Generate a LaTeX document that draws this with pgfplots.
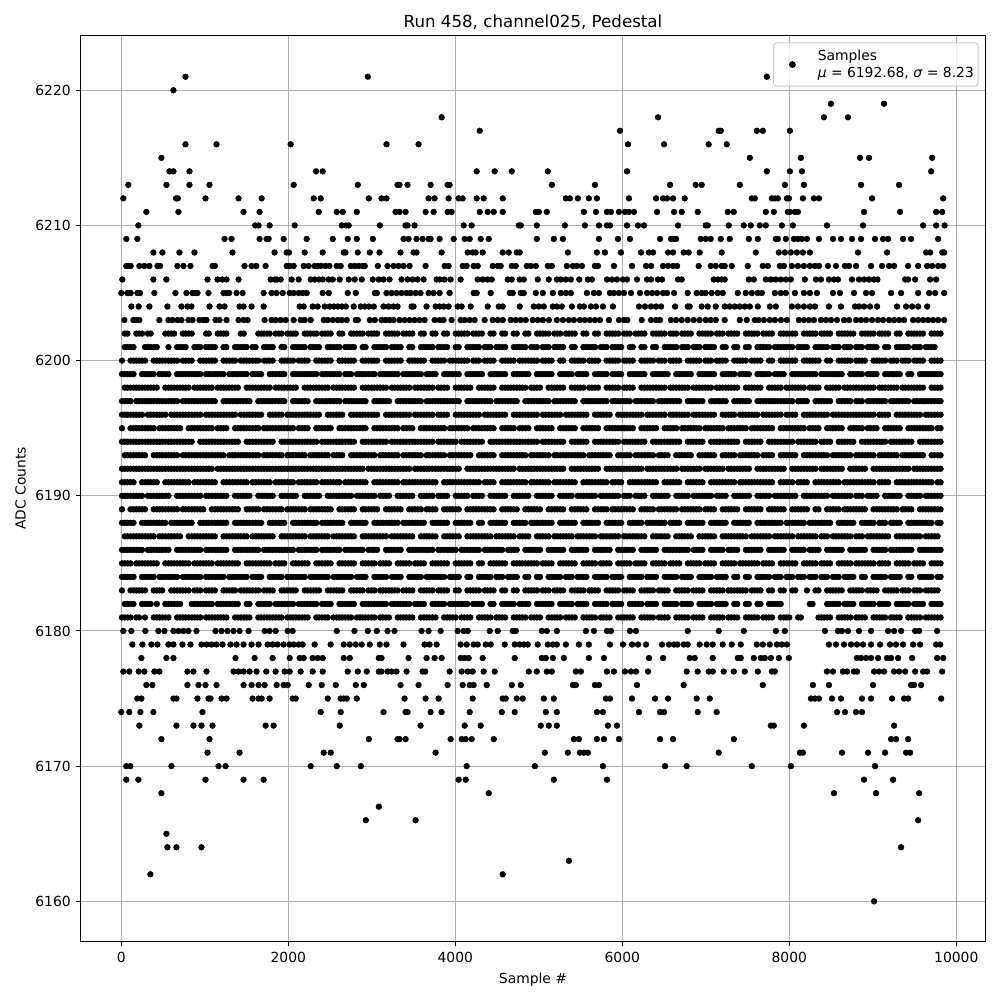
\documentclass[border=0pt]{standalone}
\usepackage{fontspec}
\setmainfont{DejaVu Sans}
\usepackage{pgfplots}
\usepackage{pgfplotstable}
\pgfplotsset{compat=1.18}
\definecolor{gridg}{HTML}{B0B0B0}
\definecolor{legg}{HTML}{CCCCCC}
\pgfplotstableread{
x y
768 6221
2952 6221
7731 6221
624 6220
8499 6219
9135 6219
3836 6218
6428 6218
8415 6218
8703 6218
4292 6217
5972 6217
7155 6217
7179 6217
7611 6217
7683 6217
8007 6217
768 6216
1140 6216
2028 6216
3176 6216
3560 6216
6068 6216
6500 6216
7035 6216
7251 6216
480 6215
7527 6215
8139 6215
8847 6215
8955 6215
9711 6215
576 6214
624 6214
816 6214
2332 6214
2412 6214
4256 6214
4472 6214
4676 6214
5108 6214
6056 6214
7731 6214
8007 6214
8151 6214
9699 6214
84 6213
540 6213
816 6213
1056 6213
2064 6213
2832 6213
3308 6213
3332 6213
3428 6213
3704 6213
3908 6213
3932 6213
5156 6213
5672 6213
6572 6213
6879 6213
6951 6213
7407 6213
7947 6213
8175 6213
8859 6213
9315 6213
24 6212
656 6212
676 6212
1008 6212
1404 6212
1680 6212
2304 6212
2388 6212
2964 6212
3116 6212
3176 6212
3680 6212
3752 6212
3920 6212
4040 6212
4088 6212
4256 6212
4340 6212
4568 6212
5324 6212
5372 6212
5468 6212
5600 6212
5696 6212
6080 6212
6404 6212
6488 6212
6536 6212
6608 6212
6747 6212
7551 6212
7587 6212
7791 6212
7827 6212
7863 6212
7971 6212
7995 6212
8163 6212
8295 6212
8355 6212
8991 6212
9843 6212
300 6211
684 6211
1464 6211
1656 6211
2364 6211
2580 6211
2652 6211
2820 6211
3284 6211
3332 6211
3404 6211
3644 6211
3740 6211
3908 6211
3956 6211
4292 6211
4388 6211
4460 6211
4568 6211
4964 6211
5000 6211
5096 6211
5540 6211
5684 6211
5816 6211
5864 6211
5960 6211
6032 6211
6080 6211
6140 6211
6416 6211
6620 6211
6711 6211
6903 6211
7263 6211
7335 6211
7719 6211
7815 6211
7983 6211
8007 6211
8067 6211
8103 6211
8895 6211
9327 6211
9759 6211
9831 6211
204 6210
1604 6210
1644 6210
1776 6210
2076 6210
2640 6210
2692 6210
2724 6210
3096 6210
3404 6210
3428 6210
3512 6210
4100 6210
4196 6210
4760 6210
4784 6210
4976 6210
5312 6210
5552 6210
5720 6210
5816 6210
5852 6210
6056 6210
6188 6210
6260 6210
6668 6210
6999 6210
7023 6210
7275 6210
7455 6210
7539 6210
7647 6210
7719 6210
7911 6210
8043 6210
8451 6210
8883 6210
9603 6210
9759 6210
9860 6210
60 6209
192 6209
1236 6209
1320 6209
1656 6209
1740 6209
1764 6209
1944 6209
2220 6209
2532 6209
2712 6209
2820 6209
3012 6209
3380 6209
3440 6209
3536 6209
3608 6209
3680 6209
3704 6209
3812 6209
3980 6209
4112 6209
4172 6209
4304 6209
4400 6209
4976 6209
5180 6209
5288 6209
5720 6209
5948 6209
6092 6209
6452 6209
6584 6209
6620 6209
6644 6209
6939 6209
6999 6209
7059 6209
7179 6209
7287 6209
7515 6209
7623 6209
7839 6209
7863 6209
7959 6209
8055 6209
8103 6209
8151 6209
8211 6209
8355 6209
8523 6209
8619 6209
8751 6209
8859 6209
9027 6209
9123 6209
9183 6209
9363 6209
9459 6209
9783 6209
384 6208
492 6208
696 6208
876 6208
1332 6208
1836 6208
1980 6208
2008 6208
2196 6208
2412 6208
2664 6208
2684 6208
2832 6208
2976 6208
3092 6208
3344 6208
3500 6208
3536 6208
3836 6208
4148 6208
4208 6208
4244 6208
4328 6208
4568 6208
4640 6208
4736 6208
4772 6208
5348 6208
5696 6208
5792 6208
5984 6208
6224 6208
6320 6208
6368 6208
6548 6208
6608 6208
6735 6208
6795 6208
6927 6208
7191 6208
7599 6208
7875 6208
7947 6208
8019 6208
8091 6208
8163 6208
8247 6208
8823 6208
9171 6208
9639 6208
9687 6208
9831 6208
9855 6208
60 6207
84 6207
112 6207
216 6207
276 6207
336 6207
432 6207
464 6207
672 6207
744 6207
828 6207
1092 6207
1120 6207
1476 6207
1560 6207
1616 6207
1728 6207
1980 6207
2016 6207
2064 6207
2184 6207
2244 6207
2316 6207
2352 6207
2392 6207
2444 6207
2492 6207
2580 6207
2628 6207
2748 6207
2796 6207
2844 6207
2892 6207
2916 6207
3072 6207
3188 6207
3260 6207
3320 6207
3380 6207
3452 6207
3644 6207
3872 6207
3920 6207
4088 6207
4136 6207
4220 6207
4268 6207
4448 6207
4508 6207
4544 6207
4676 6207
4724 6207
4856 6207
4904 6207
4964 6207
5108 6207
5156 6207
5336 6207
5408 6207
5456 6207
5516 6207
5672 6207
5708 6207
5900 6207
6116 6207
6284 6207
6344 6207
6488 6207
6548 6207
6608 6207
6656 6207
6915 6207
7059 6207
7119 6207
7191 6207
7227 6207
7311 6207
7503 6207
7683 6207
7743 6207
7887 6207
7935 6207
8031 6207
8103 6207
8175 6207
8247 6207
8307 6207
8355 6207
8463 6207
8559 6207
8667 6207
8715 6207
8799 6207
8979 6207
9111 6207
9195 6207
9255 6207
9423 6207
9543 6207
9651 6207
9711 6207
9783 6207
9843 6207
12 6206
384 6206
540 6206
1032 6206
1152 6206
1212 6206
1260 6206
1404 6206
1788 6206
1836 6206
1864 6206
1908 6206
2040 6206
2124 6206
2268 6206
2316 6206
2364 6206
2412 6206
2484 6206
2532 6206
2616 6206
2724 6206
2796 6206
2880 6206
3012 6206
3084 6206
3140 6206
3212 6206
3356 6206
3428 6206
3488 6206
3548 6206
3620 6206
3776 6206
3812 6206
3872 6206
3944 6206
4064 6206
4268 6206
4328 6206
4388 6206
4436 6206
4628 6206
4676 6206
4772 6206
4820 6206
4988 6206
5120 6206
5216 6206
5264 6206
5324 6206
5384 6206
5484 6206
5588 6206
5636 6206
5816 6206
5876 6206
5936 6206
6008 6206
6056 6206
6176 6206
6296 6206
6344 6206
6428 6206
6476 6206
6668 6206
6711 6206
7095 6206
7143 6206
7191 6206
7227 6206
7515 6206
7575 6206
7719 6206
7779 6206
7839 6206
7899 6206
7959 6206
8019 6206
8187 6206
8319 6206
8379 6206
8475 6206
8535 6206
8583 6206
8751 6206
8835 6206
8895 6206
8955 6206
9015 6206
9055 6206
9387 6206
9423 6206
9507 6206
9687 6206
9759 6206
0 6205
72 6205
112 6205
192 6205
224 6205
396 6205
648 6205
780 6205
852 6205
888 6205
912 6205
1044 6205
1224 6205
1264 6205
1292 6205
1380 6205
1452 6205
1704 6205
1800 6205
1860 6205
1932 6205
2016 6205
2064 6205
2124 6205
2172 6205
2220 6205
2412 6205
2484 6205
2712 6205
2808 6205
3036 6205
3060 6205
3176 6205
3236 6205
3296 6205
3356 6205
3416 6205
3464 6205
3524 6205
3584 6205
3680 6205
3740 6205
3812 6205
3932 6205
4220 6205
4256 6205
4424 6205
4652 6205
4688 6205
4784 6205
4820 6205
4964 6205
5048 6205
5168 6205
5264 6205
5324 6205
5384 6205
5576 6205
5660 6205
5720 6205
5852 6205
5900 6205
5960 6205
6020 6205
6104 6205
6212 6205
6296 6205
6356 6205
6416 6205
6488 6205
6536 6205
6620 6205
6783 6205
6891 6205
6951 6205
6999 6205
7071 6205
7143 6205
7203 6205
7383 6205
7479 6205
7551 6205
7623 6205
7671 6205
7827 6205
7899 6205
7959 6205
8067 6205
8175 6205
8247 6205
8331 6205
8523 6205
8607 6205
8775 6205
8919 6205
8991 6205
9219 6205
9339 6205
9543 6205
9675 6205
9747 6205
9855 6205
120 6204
208 6204
336 6204
552 6204
720 6204
792 6204
840 6204
1056 6204
1176 6204
1236 6204
1416 6204
1464 6204
1560 6204
1704 6204
2136 6204
2184 6204
2292 6204
2352 6204
2436 6204
2496 6204
2544 6204
2592 6204
2640 6204
2688 6204
2784 6204
2868 6204
2916 6204
2964 6204
3024 6204
3140 6204
3200 6204
3260 6204
3308 6204
3476 6204
3500 6204
3656 6204
3764 6204
3812 6204
3860 6204
3920 6204
4028 6204
4076 6204
4184 6204
4388 6204
4520 6204
4568 6204
4772 6204
4940 6204
5000 6204
5060 6204
5168 6204
5216 6204
5276 6204
5396 6204
5492 6204
5540 6204
5624 6204
5684 6204
5768 6204
5888 6204
6200 6204
6272 6204
6344 6204
6404 6204
6464 6204
6632 6204
6783 6204
6807 6204
6951 6204
7023 6204
7119 6204
7227 6204
7287 6204
7347 6204
7407 6204
7467 6204
7527 6204
7623 6204
7767 6204
7839 6204
8031 6204
8103 6204
8175 6204
8247 6204
8307 6204
8475 6204
8619 6204
8787 6204
8835 6204
8895 6204
8967 6204
9051 6204
9291 6204
9399 6204
9471 6204
9543 6204
9651 6204
36 6203
144 6203
184 6203
216 6203
456 6203
564 6203
612 6203
672 6203
720 6203
804 6203
852 6203
936 6203
984 6203
1020 6203
1128 6203
1176 6203
1260 6203
1404 6203
1464 6203
1512 6203
1716 6203
1800 6203
1848 6203
1908 6203
1968 6203
2064 6203
2148 6203
2196 6203
2268 6203
2424 6203
2472 6203
2532 6203
2592 6203
2640 6203
2700 6203
2808 6203
2832 6203
2976 6203
3036 6203
3116 6203
3164 6203
3212 6203
3260 6203
3332 6203
3392 6203
3452 6203
3512 6203
3572 6203
3632 6203
3752 6203
3812 6203
3860 6203
3956 6203
4064 6203
4112 6203
4172 6203
4232 6203
4352 6203
4448 6203
4508 6203
4568 6203
4664 6203
4724 6203
4784 6203
4844 6203
4928 6203
4988 6203
5048 6203
5120 6203
5216 6203
5288 6203
5360 6203
5420 6203
5492 6203
5552 6203
5612 6203
5672 6203
5732 6203
5840 6203
5960 6203
6020 6203
6060 6203
6232 6203
6344 6203
6404 6203
6452 6203
6584 6203
6644 6203
6711 6203
6783 6203
6855 6203
6927 6203
6999 6203
7059 6203
7119 6203
7227 6203
7407 6203
7491 6203
7587 6203
7635 6203
7695 6203
7767 6203
7827 6203
7899 6203
7971 6203
8115 6203
8175 6203
8235 6203
8295 6203
8379 6203
8439 6203
8499 6203
8571 6203
8655 6203
8715 6203
8799 6203
8859 6203
8919 6203
8991 6203
9063 6203
9123 6203
9195 6203
9255 6203
9315 6203
9375 6203
9483 6203
9543 6203
9603 6203
9663 6203
9723 6203
9783 6203
9855 6203
24 6180
120 6180
288 6180
444 6180
516 6180
624 6180
684 6180
744 6180
804 6180
900 6180
1128 6180
1200 6180
1272 6180
1344 6180
1416 6180
1524 6180
1716 6180
1776 6180
1848 6180
1992 6180
2052 6180
2580 6180
2792 6180
2952 6180
3060 6180
3188 6180
3272 6180
3596 6180
3680 6180
3824 6180
4028 6180
4100 6180
4148 6180
4412 6180
4508 6180
4688 6180
4724 6180
5036 6180
5096 6180
5216 6180
5564 6180
5660 6180
5816 6180
5864 6180
6092 6180
6164 6180
6783 6180
7155 6180
7455 6180
7839 6180
7947 6180
8427 6180
8583 6180
8631 6180
8703 6180
8835 6180
8979 6180
9183 6180
9255 6180
9339 6180
9507 6180
9555 6180
9771 6180
132 6179
252 6179
360 6179
432 6179
564 6179
624 6179
732 6179
828 6179
960 6179
1020 6179
1080 6179
1140 6179
1212 6179
1308 6179
1380 6179
1464 6179
1560 6179
1644 6179
1752 6179
1812 6179
1872 6179
1944 6179
2016 6179
2064 6179
2124 6179
2172 6179
2316 6179
2508 6179
2664 6179
2736 6179
2808 6179
2880 6179
2976 6179
3096 6179
3176 6179
3380 6179
3632 6179
3692 6179
3776 6179
4064 6179
4136 6179
4220 6179
4268 6179
4364 6179
4424 6179
4592 6179
4712 6179
4772 6179
4820 6179
4868 6179
4988 6179
5108 6179
5168 6179
5216 6179
5324 6179
5480 6179
5600 6179
5852 6179
6008 6179
6116 6179
6188 6179
6284 6179
6476 6179
6560 6179
6620 6179
6660 6179
6735 6179
6783 6179
6927 6179
7011 6179
7083 6179
7203 6179
7311 6179
7419 6179
7611 6179
7683 6179
7767 6179
7851 6179
7911 6179
7971 6179
8475 6179
8559 6179
8655 6179
8739 6179
8811 6179
8883 6179
8979 6179
9087 6179
9207 6179
9279 6179
9363 6179
9483 6179
9567 6179
9759 6179
9807 6179
240 6178
540 6178
624 6178
1368 6178
1596 6178
1812 6178
2016 6178
2136 6178
2184 6178
2292 6178
2352 6178
2412 6178
2664 6178
2736 6178
3084 6178
3116 6178
3440 6178
3656 6178
3752 6178
3836 6178
4064 6178
4112 6178
4160 6178
4328 6178
4712 6178
5036 6178
5084 6178
5168 6178
5300 6178
5600 6178
5780 6178
6320 6178
6488 6178
6807 6178
6867 6178
7083 6178
7383 6178
7419 6178
7575 6178
7659 6178
7707 6178
7779 6178
7875 6178
7995 6178
8811 6178
8859 6178
8919 6178
8979 6178
9063 6178
9171 6178
9219 6178
9303 6178
9471 6178
9771 6178
9843 6178
24 6177
96 6177
208 6177
276 6177
396 6177
456 6177
792 6177
864 6177
1020 6177
1344 6177
1404 6177
1464 6177
1536 6177
1620 6177
1736 6177
1848 6177
1956 6177
2016 6177
2148 6177
2292 6177
2412 6177
2712 6177
2832 6177
2940 6177
3084 6177
3116 6177
3188 6177
3236 6177
3296 6177
3416 6177
3608 6177
3640 6177
3932 6177
4076 6177
4148 6177
4208 6177
4340 6177
4472 6177
4880 6177
4976 6177
5096 6177
5156 6177
5444 6177
5504 6177
5816 6177
5900 6177
6032 6177
6104 6177
6164 6177
6308 6177
6771 6177
6903 6177
7035 6177
7083 6177
7215 6177
7335 6177
7467 6177
7623 6177
7791 6177
7827 6177
8451 6177
8523 6177
8643 6177
8691 6177
8775 6177
8811 6177
9015 6177
9075 6177
9135 6177
9255 6177
9315 6177
9387 6177
9507 6177
9603 6177
9651 6177
9831 6177
300 6176
372 6176
792 6176
924 6176
1008 6176
1140 6176
1464 6176
1560 6176
1644 6176
1716 6176
1860 6176
1944 6176
1992 6176
2244 6176
2400 6176
2568 6176
2808 6176
2904 6176
3344 6176
3560 6176
3908 6176
4088 6176
4172 6176
4220 6176
4376 6176
4676 6176
4784 6176
5408 6176
5444 6176
5672 6176
5720 6176
6176 6176
6735 6176
7683 6176
8283 6176
8475 6176
9003 6176
9459 6176
9495 6176
9579 6176
192 6175
240 6175
624 6175
660 6175
912 6175
1044 6175
1068 6175
1200 6175
1260 6175
1572 6175
1644 6175
1680 6175
1776 6175
2052 6175
2088 6175
2472 6175
2628 6175
2664 6175
2700 6175
2820 6175
3392 6175
3644 6175
3800 6175
4208 6175
4568 6175
4604 6175
4736 6175
4808 6175
5060 6175
5180 6175
5804 6175
5852 6175
6116 6175
6392 6175
6548 6175
6891 6175
7047 6175
8259 6175
8307 6175
8355 6175
8511 6175
8619 6175
8871 6175
8979 6175
9231 6175
9375 6175
9423 6175
9819 6175
0 6174
96 6174
228 6174
384 6174
972 6174
2388 6174
2628 6174
3140 6174
3404 6174
3428 6174
3704 6174
3836 6174
4172 6174
4556 6174
4712 6174
5084 6174
5216 6174
5696 6174
5768 6174
6200 6174
6452 6174
6500 6174
6903 6174
7131 6174
8571 6174
8667 6174
8799 6174
8871 6174
216 6173
660 6173
864 6173
960 6173
1092 6173
1728 6173
1824 6173
2616 6173
3584 6173
4112 6173
4304 6173
5024 6173
5120 6173
5216 6173
5828 6173
5936 6173
7779 6173
7815 6173
8175 6173
9255 6173
480 6172
1056 6172
2964 6172
3308 6172
3332 6172
3404 6172
3944 6172
4076 6172
4124 6172
4196 6172
4460 6172
5420 6172
5480 6172
5696 6172
5780 6172
5960 6172
6452 6172
6608 6172
7335 6172
9219 6172
9279 6172
9423 6172
1032 6171
1416 6171
2424 6171
2508 6171
3764 6171
5072 6171
5348 6171
5492 6171
5540 6171
5588 6171
7155 6171
8127 6171
8163 6171
8631 6171
8943 6171
9147 6171
9399 6171
9447 6171
60 6170
108 6170
600 6170
1164 6170
1248 6170
2268 6170
2580 6170
2868 6170
4136 6170
4952 6170
5768 6170
6512 6170
6771 6170
7551 6170
8019 6170
9027 6170
60 6169
204 6169
1008 6169
1464 6169
1704 6169
4040 6169
4124 6169
5180 6169
5816 6169
8895 6169
9243 6169
480 6168
4400 6168
8535 6168
9039 6168
9555 6168
3084 6167
2928 6166
3524 6166
9543 6166
540 6165
552 6164
660 6164
960 6164
9339 6164
5360 6163
348 6162
4568 6162
9015 6160
}\outliers
\pgfplotstableread{
x a b c d e f g h i j k l m n o p q r s t u v
8 6181 nan 6183 6184 6185 6186 nan 6188 6189 6190 6191 6192 nan 6194 6195 6196 6197 nan 6199 6200 nan nan
74 6181 6182 nan 6184 6185 6186 6187 6188 nan 6190 6191 6192 6193 6194 nan 6196 6197 6198 6199 nan 6201 6202
146 nan 6182 6183 6184 nan 6186 6187 6188 6189 6190 6191 6192 6193 6194 6195 6196 nan 6198 6199 6200 6201 nan
212 6181 nan 6183 nan 6185 6186 6187 nan 6189 6190 nan 6192 6193 6194 6195 6196 6197 6198 nan 6200 nan 6202
284 6181 6182 6183 6184 6185 nan 6187 6188 6189 nan 6191 6192 6193 6194 6195 nan 6197 6198 6199 6200 6201 nan
352 nan 6182 nan 6184 6185 6186 6187 6188 nan 6190 6191 6192 nan 6194 6195 6196 6197 6198 6199 nan 6201 6202
425 6181 6182 6183 nan 6185 6186 nan 6188 6189 6190 6191 6192 6193 6194 nan 6196 6197 6198 nan 6200 6201 nan
490 6181 nan 6183 6184 nan 6186 6187 6188 6189 6190 nan 6192 6193 6194 6195 6196 6197 nan 6199 6200 nan nan
565 6181 6182 nan 6184 6185 6186 6187 nan 6189 6190 6191 6192 6193 6194 6195 nan 6197 6198 6199 6200 6201 6202
632 nan 6182 6183 6184 6185 nan 6187 6188 6189 nan 6191 6192 6193 6194 6195 6196 6197 6198 nan 6200 nan 6202
704 6181 6182 6183 nan 6185 6186 6187 6188 nan 6190 6191 6192 nan 6194 6195 6196 nan 6198 6199 nan 6201 nan
770 6181 nan 6183 6184 6185 6186 nan 6188 6189 6190 6191 6192 6193 6194 nan 6196 6197 6198 6199 6200 6201 6202
843 6181 6182 nan 6184 nan 6186 6187 6188 6189 6190 nan 6192 6193 6194 6195 6196 6197 nan 6199 6200 nan 6202
910 6181 6182 6183 6184 6185 6186 6187 nan 6189 6190 6191 6192 6193 nan 6195 6196 6197 6198 6199 nan 6201 nan
982 nan 6182 nan nan 6185 nan 6187 6188 6189 nan 6191 6192 6193 6194 6195 nan 6197 6198 nan 6200 nan nan
1048 6181 6182 6183 6184 6185 6186 6187 6188 nan 6190 6191 6192 6193 6194 6195 6196 6197 6198 6199 6200 6201 6202
1121 6181 nan 6183 6184 nan 6186 6187 6188 6189 6190 6191 nan 6193 6194 nan 6196 6197 nan 6199 6200 6201 nan
1190 6181 6182 nan 6184 6185 6186 nan 6188 6189 6190 nan 6192 6193 6194 6195 6196 nan 6198 6199 nan nan 6202
1258 6181 6182 6183 nan 6185 6186 6187 6188 6189 6190 6191 6192 nan 6194 6195 6196 6197 6198 nan 6200 6201 6202
1329 nan 6182 6183 6184 6185 nan 6187 nan 6189 nan 6191 6192 6193 6194 nan 6196 6197 6198 6199 6200 nan nan
1396 6181 6182 nan 6184 6185 6186 6187 6188 6189 6190 6191 6192 6193 6194 6195 nan 6197 6198 6199 nan 6201 nan
1467 6181 nan 6183 6184 nan 6186 6187 6188 nan 6190 6191 6192 6193 nan 6195 6196 6197 nan 6199 6200 6201 6202
1535 6181 6182 6183 nan 6185 6186 nan 6188 6189 6190 nan 6192 6193 6194 6195 6196 6197 6198 nan 6200 nan nan
1608 nan nan 6183 6184 6185 6186 6187 6188 6189 nan 6191 6192 6193 6194 6195 6196 nan 6198 6199 6200 6201 nan
1675 6181 6182 nan 6184 6185 nan 6187 6188 nan 6190 6191 6192 nan 6194 nan 6196 6197 6198 6199 nan nan 6202
1744 6181 6182 6183 nan 6185 6186 6187 nan 6189 6190 6191 6192 6193 6194 6195 nan 6197 6198 nan 6200 6201 6202
1813 6181 nan 6183 6184 nan 6186 6187 6188 6189 6190 nan 6192 6193 6194 6195 6196 6197 nan 6199 6200 6201 nan
1886 6181 6182 nan 6184 6185 6186 nan 6188 6189 nan 6191 6192 6193 nan 6195 6196 6197 6198 6199 nan nan 6202
1952 nan 6182 6183 nan 6185 6186 6187 6188 nan 6190 6191 6192 nan 6194 6195 nan 6197 6198 6199 6200 6201 nan
2024 6181 6182 6183 6184 nan 6186 6187 nan 6189 6190 6191 6192 6193 6194 6195 6196 nan 6198 nan 6200 nan 6202
2090 6181 nan 6183 6184 6185 nan 6187 6188 6189 6190 nan 6192 6193 6194 nan 6196 6197 6198 6199 nan 6201 6202
2163 6181 6182 nan 6184 6185 6186 6187 6188 6189 nan 6191 6192 6193 6194 6195 6196 6197 nan 6199 6200 6201 nan
2231 6181 6182 6183 nan 6185 6186 nan 6188 nan 6190 6191 6192 nan 6194 6195 6196 6197 6198 6199 6200 nan 6202
2302 nan 6182 6183 6184 nan 6186 6187 6188 6189 6190 6191 6192 6193 6194 nan 6196 nan 6198 6199 nan 6201 6202
2368 6181 nan 6183 6184 6185 nan 6187 nan 6189 6190 nan 6192 6193 nan 6195 6196 6197 6198 nan 6200 6201 nan
2440 6181 6182 nan 6184 6185 6186 6187 6188 6189 nan 6191 6192 6193 6194 6195 nan 6197 6198 6199 6200 nan 6202
2507 nan 6182 6183 nan 6185 6186 nan 6188 6189 6190 6191 6192 nan 6194 6195 6196 6197 nan 6199 6200 6201 6202
2580 6181 nan 6183 6184 nan 6186 6187 6188 nan 6190 6191 6192 6193 6194 nan 6196 6197 6198 6199 nan 6201 nan
2646 6181 6182 6183 6184 6185 nan 6187 6188 6189 6190 nan 6192 6193 6194 6195 6196 nan 6198 nan 6200 nan 6202
2719 6181 6182 nan 6184 6185 6186 6187 nan 6189 6190 6191 6192 nan 6194 6195 nan 6197 6198 6199 6200 6201 nan
2786 nan 6182 6183 nan 6185 6186 6187 6188 6189 nan 6191 6192 6193 6194 6195 6196 6197 6198 nan 6200 6201 6202
2858 6181 nan 6183 6184 nan 6186 nan 6188 nan 6190 6191 6192 6193 nan 6195 6196 6197 nan 6199 nan nan 6202
2925 6181 6182 nan 6184 6185 nan 6187 6188 6189 6190 6191 nan 6193 6194 6195 6196 6197 6198 6199 6200 6201 nan
2998 6181 6182 6183 nan 6185 6186 6187 nan 6189 6190 nan 6192 6193 6194 nan 6196 nan 6198 6199 6200 nan 6202
3064 nan 6182 nan 6184 nan 6186 6187 6188 6189 nan 6191 6192 nan 6194 6195 6196 6197 6198 nan 6200 6201 6202
3135 6181 6182 6183 6184 6185 nan 6187 6188 nan 6190 6191 6192 6193 6194 6195 nan 6197 6198 6199 nan 6201 nan
3206 6181 nan 6183 nan 6185 6186 nan 6188 6189 6190 6191 6192 6193 nan 6195 6196 6197 nan 6199 6200 nan 6202
3274 nan 6182 6183 6184 nan 6186 6187 6188 6189 nan 6191 6192 6193 6194 6195 6196 nan 6198 6199 6200 6201 6202
3345 6181 6182 nan 6184 6185 6186 6187 nan 6189 6190 nan 6192 nan 6194 nan 6196 6197 6198 nan 6200 6201 nan
3412 6181 6182 6183 nan 6185 nan 6187 6188 nan 6190 6191 6192 6193 6194 6195 6196 6197 6198 6199 nan nan 6202
3485 6181 nan 6183 6184 nan 6186 6187 6188 6189 6190 6191 nan 6193 6194 6195 nan 6197 nan 6199 6200 6201 6202
3551 nan 6182 nan 6184 6185 6186 nan 6188 6189 nan 6191 6192 6193 6194 nan 6196 6197 6198 6199 6200 nan nan
3624 6181 6182 6183 nan 6185 6186 6187 6188 nan 6190 6191 6192 nan 6194 6195 6196 nan 6198 nan 6200 6201 6202
3690 6181 nan 6183 6184 nan 6186 6187 nan 6189 6190 6191 6192 6193 6194 6195 6196 6197 6198 6199 nan 6201 nan
3763 6181 6182 nan 6184 6185 nan 6187 6188 6189 nan 6191 6192 6193 nan 6195 nan 6197 nan 6199 6200 nan 6202
3830 nan 6182 6183 6184 6185 6186 nan 6188 nan 6190 nan 6192 6193 6194 6195 6196 6197 6198 nan 6200 6201 nan
3902 6181 nan 6183 nan 6185 6186 6187 6188 6189 6190 6191 6192 nan 6194 nan 6196 6197 6198 6199 nan 6201 6202
3969 6181 6182 nan 6184 nan 6186 6187 nan 6189 nan 6191 6192 6193 6194 6195 nan 6197 nan 6199 6200 nan nan
4041 nan 6182 6183 6184 6185 nan 6187 6188 6189 6190 6191 6192 6193 nan 6195 6196 6197 6198 6199 6200 6201 6202
4109 6181 6182 nan nan 6185 6186 nan 6188 nan 6190 6191 nan 6193 6194 6195 6196 nan 6198 nan 6200 nan 6202
4180 6181 nan 6183 6184 6185 6186 6187 6188 6189 nan 6191 6192 6193 6194 nan 6196 6197 6198 6199 nan 6201 nan
4247 nan 6182 6183 nan nan 6186 6187 nan 6189 6190 6191 6192 nan 6194 6195 6196 6197 nan 6199 6200 6201 6202
4319 6181 6182 nan 6184 6185 nan 6187 6188 6189 6190 nan 6192 6193 6194 6195 nan 6197 6198 6199 nan nan 6202
4386 6181 nan 6183 6184 nan 6186 6187 nan 6189 nan 6191 6192 6193 nan 6195 6196 6197 6198 nan 6200 6201 nan
4458 nan 6182 6183 nan 6185 6186 nan 6188 6189 6190 6191 6192 6193 6194 6195 6196 nan 6198 6199 6200 nan 6202
4525 6181 nan nan 6184 6185 6186 6187 6188 nan 6190 nan 6192 nan 6194 nan 6196 6197 nan 6199 nan 6201 nan
4597 6181 6182 6183 nan 6185 nan 6187 6188 6189 6190 6191 6192 6193 6194 6195 6196 6197 6198 6199 6200 6201 6202
4664 nan 6182 nan 6184 nan 6186 6187 nan 6189 nan 6191 6192 6193 6194 6195 nan 6197 6198 nan 6200 nan nan
4736 6181 nan 6183 6184 6185 6186 nan 6188 6189 6190 6191 nan 6193 6194 nan 6196 6197 6198 6199 nan 6201 6202
4803 6181 6182 nan nan 6185 nan 6187 6188 nan 6190 6191 6192 6193 6194 6195 6196 nan 6198 6199 6200 6201 nan
4875 nan 6182 6183 6184 6185 6186 6187 nan 6189 6190 nan 6192 nan 6194 6195 6196 6197 nan 6199 6200 nan 6202
4942 6181 nan 6183 nan 6185 6186 nan 6188 6189 nan 6191 6192 6193 6194 nan 6196 6197 6198 nan 6200 6201 nan
5014 6181 6182 nan 6184 nan 6186 6187 6188 6189 6190 6191 6192 6193 nan 6195 nan 6197 6198 6199 nan nan 6202
5081 nan 6182 6183 nan 6185 nan 6187 6188 nan 6190 6191 6192 6193 6194 6195 6196 6197 nan 6199 6200 6201 6202
5153 6181 6182 nan 6184 6185 6186 nan 6188 6189 6190 nan 6192 nan 6194 6195 6196 nan 6198 6199 6200 nan nan
5220 6181 nan 6183 6184 nan 6186 6187 nan 6189 nan 6191 6192 6193 6194 nan 6196 6197 6198 nan nan 6201 6202
5292 nan 6182 6183 nan 6185 6186 6187 6188 6189 6190 6191 6192 6193 6194 6195 nan 6197 6198 6199 6200 6201 nan
5359 6181 6182 nan 6184 6185 nan 6187 6188 nan 6190 6191 nan 6193 nan 6195 6196 6197 nan 6199 nan nan 6202
5431 6181 nan 6183 nan 6185 6186 nan 6188 6189 nan 6191 6192 6193 6194 6195 6196 6197 6198 nan 6200 6201 6202
5498 nan 6182 6183 6184 nan 6186 6187 nan 6189 6190 nan 6192 6193 6194 nan 6196 nan 6198 6199 6200 nan nan
5570 6181 6182 nan 6184 6185 6186 6187 6188 6189 6190 6191 6192 nan 6194 6195 6196 6197 nan 6199 nan 6201 6202
5637 6181 nan 6183 nan 6185 nan 6187 6188 nan 6190 6191 6192 6193 nan 6195 nan 6197 6198 nan 6200 6201 nan
5709 nan 6182 6183 6184 nan 6186 nan 6188 6189 nan 6191 6192 6193 6194 6195 6196 6197 6198 6199 6200 nan 6202
5776 6181 6182 nan 6184 6185 6186 6187 nan 6189 6190 6191 nan 6193 6194 nan 6196 6197 nan 6199 nan 6201 nan
5848 6181 nan 6183 nan 6185 6186 6187 6188 nan 6190 nan 6192 6193 6194 6195 6196 nan 6198 nan 6200 nan 6202
5915 nan 6182 6183 6184 nan nan 6187 6188 6189 6190 6191 6192 nan 6194 6195 nan 6197 6198 6199 6200 6201 6202
5987 6181 6182 nan 6184 6185 6186 nan 6188 6189 nan 6191 6192 6193 nan 6195 6196 6197 nan 6199 nan 6201 nan
6054 6181 nan 6183 nan 6185 6186 6187 nan 6189 6190 nan 6192 6193 6194 6195 6196 6197 6198 nan 6200 nan 6202
6126 6181 6182 6183 6184 nan 6186 6187 6188 6189 nan 6191 6192 nan 6194 6195 6196 nan 6198 6199 6200 6201 nan
6193 nan 6182 nan 6184 6185 nan 6187 6188 nan 6190 6191 6192 6193 6194 nan 6196 6197 nan 6199 nan nan 6202
6265 6181 nan 6183 nan 6185 6186 6187 nan 6189 6190 6191 nan 6193 6194 6195 nan 6197 6198 6199 6200 6201 6202
6332 6181 6182 6183 6184 nan 6186 nan 6188 6189 nan 6191 6192 6193 nan 6195 6196 6197 6198 nan 6200 nan nan
6404 nan 6182 nan 6184 6185 6186 6187 6188 nan 6190 6191 6192 nan 6194 6195 6196 nan 6198 6199 nan 6201 6202
6471 6181 nan 6183 nan 6185 nan 6187 6188 6189 6190 nan 6192 6193 6194 nan 6196 6197 6198 6199 6200 nan 6202
6543 6181 6182 6183 6184 nan 6186 6187 nan 6189 6190 6191 6192 6193 6194 6195 nan 6197 nan 6199 nan 6201 nan
6610 nan 6182 nan 6184 6185 6186 nan 6188 6189 nan 6191 6192 nan 6194 6195 6196 6197 6198 nan 6200 6201 6202
6682 6181 nan 6183 nan 6185 6186 6187 6188 nan 6190 6191 nan 6193 6194 nan 6196 6197 6198 6199 6200 nan nan
6749 6181 6182 6183 6184 nan 6186 6187 nan 6189 6190 nan 6192 6193 nan 6195 6196 nan 6198 6199 nan 6201 6202
6821 nan 6182 nan 6184 6185 nan 6187 6188 6189 nan 6191 6192 6193 6194 6195 nan 6197 nan 6199 6200 nan 6202
6888 6181 nan 6183 nan 6185 6186 nan 6188 6189 6190 6191 6192 nan 6194 6195 6196 6197 6198 nan 6200 6201 nan
6960 6181 6182 6183 6184 nan 6186 6187 6188 nan 6190 6191 nan 6193 6194 nan 6196 6197 6198 6199 nan nan 6202
7027 nan 6182 nan 6184 6185 nan 6187 nan 6189 6190 nan 6192 6193 nan 6195 6196 nan 6198 6199 6200 6201 6202
7099 6181 nan 6183 nan 6185 6186 6187 6188 6189 nan 6191 6192 6193 6194 6195 6196 6197 nan 6199 nan 6201 nan
7166 6181 6182 6183 6184 nan 6186 nan 6188 nan 6190 6191 6192 nan 6194 6195 nan 6197 6198 nan 6200 nan 6202
7238 nan 6182 nan 6184 6185 nan 6187 6188 6189 6190 6191 nan 6193 6194 nan 6196 6197 6198 6199 6200 6201 nan
7305 6181 nan 6183 nan 6185 6186 6187 nan 6189 nan 6191 6192 6193 6194 6195 6196 nan 6198 6199 nan nan 6202
7377 6181 6182 6183 6184 nan 6186 6187 6188 6189 6190 nan 6192 nan 6194 6195 nan 6197 6198 nan 6200 6201 6202
7444 nan nan 6183 nan 6185 nan 6187 6188 nan 6190 6191 6192 6193 nan 6195 6196 6197 nan 6199 6200 nan nan
7516 6181 6182 nan 6184 6185 6186 nan 6188 6189 6190 6191 6192 6193 6194 nan 6196 6197 6198 6199 nan 6201 6202
7583 6181 nan 6183 nan 6185 6186 6187 nan 6189 nan 6191 nan 6193 6194 6195 6196 nan 6198 nan 6200 nan 6202
7655 nan 6182 6183 6184 nan 6186 6187 6188 6189 6190 6191 6192 nan 6194 6195 nan 6197 6198 6199 6200 6201 nan
7722 6181 nan nan 6184 6185 nan 6187 6188 nan 6190 6191 6192 6193 nan 6195 6196 6197 nan 6199 nan 6201 6202
7794 6181 6182 6183 nan 6185 6186 nan 6188 6189 nan 6191 6192 6193 6194 6195 6196 6197 6198 nan 6200 nan 6202
7861 nan 6182 nan 6184 nan 6186 6187 6188 6189 6190 nan 6192 nan 6194 nan 6196 6197 6198 6199 nan 6201 nan
7933 6181 nan 6183 nan 6185 6186 6187 nan 6189 6190 6191 6192 6193 6194 6195 nan 6197 nan 6199 6200 6201 6202
8000 6181 nan nan 6184 6185 nan 6187 6188 nan 6190 6191 nan 6193 6194 6195 6196 6197 6198 nan 6200 6201 6202
8072 nan nan 6183 nan 6185 6186 nan 6188 6189 6190 nan 6192 6193 nan 6195 6196 nan 6198 6199 6200 nan 6202
8139 6181 nan nan 6184 nan 6186 6187 6188 6189 nan 6191 6192 nan 6194 6195 nan 6197 6198 6199 nan 6201 nan
8211 nan nan 6183 nan 6185 nan 6187 nan 6189 6190 6191 6192 6193 6194 nan 6196 6197 nan 6199 6200 6201 6202
8278 nan 6182 nan 6184 6185 6186 6187 6188 nan 6190 nan 6192 6193 6194 6195 6196 nan 6198 6199 6200 nan 6202
8350 6181 nan 6183 nan nan 6186 nan 6188 6189 6190 6191 nan 6193 nan 6195 6196 6197 6198 nan 6200 6201 nan
8417 6181 nan nan 6184 6185 nan 6187 6188 nan 6190 6191 6192 6193 6194 nan 6196 6197 nan 6199 nan 6201 6202
8489 6181 6182 6183 nan 6185 6186 nan 6188 6189 nan 6191 6192 nan 6194 6195 nan 6197 6198 6199 6200 nan 6202
8556 nan 6182 6183 6184 nan 6186 6187 nan 6189 6190 6191 6192 6193 nan 6195 6196 nan 6198 6199 nan 6201 nan
8628 6181 nan 6183 nan 6185 6186 6187 6188 nan 6190 nan 6192 6193 6194 6195 6196 6197 nan 6199 6200 nan 6202
8695 6181 6182 nan 6184 6185 nan 6187 6188 6189 6190 6191 nan 6193 6194 nan 6196 6197 6198 nan 6200 6201 6202
8767 nan 6182 6183 6184 nan 6186 nan 6188 6189 nan 6191 6192 nan 6194 6195 6196 nan 6198 6199 nan nan 6202
8834 6181 nan 6183 nan 6185 6186 6187 nan 6189 6190 6191 6192 6193 nan 6195 6196 6197 6198 6199 6200 6201 nan
8906 6181 6182 nan 6184 6185 6186 nan 6188 6189 nan 6191 6192 6193 6194 nan 6196 nan 6198 nan 6200 nan 6202
8973 nan 6182 6183 nan 6185 nan 6187 6188 nan 6190 6191 nan 6193 6194 6195 6196 6197 6198 6199 nan 6201 6202
9045 6181 nan 6183 6184 nan 6186 6187 nan 6189 6190 nan 6192 nan 6194 6195 nan 6197 nan 6199 6200 6201 nan
9112 6181 6182 nan 6184 6185 6186 6187 6188 6189 nan 6191 6192 6193 6194 nan 6196 6197 6198 nan 6200 nan 6202
9184 nan 6182 6183 nan 6185 nan 6187 nan 6189 6190 6191 6192 6193 nan 6195 6196 nan 6198 6199 nan 6201 6202
9251 6181 nan 6183 6184 nan 6186 nan 6188 6189 6190 nan 6192 6193 6194 6195 nan 6197 6198 6199 6200 nan nan
9323 6181 6182 nan 6184 6185 6186 6187 6188 nan 6190 6191 6192 nan 6194 6195 6196 6197 nan 6199 nan 6201 6202
9390 nan 6182 6183 nan 6185 6186 6187 nan 6189 nan 6191 6192 6193 6194 nan 6196 6197 6198 nan 6200 6201 nan
9462 6181 nan nan 6184 nan 6186 6187 6188 6189 6190 6191 nan 6193 6194 6195 6196 nan 6198 6199 nan nan 6202
9529 6181 6182 6183 nan 6185 nan 6187 6188 nan 6190 6191 6192 6193 nan 6195 6196 6197 6198 nan 6200 6201 6202
9601 nan 6182 nan 6184 6185 6186 nan 6188 6189 nan 6191 6192 6193 6194 6195 nan 6197 6198 6199 6200 nan 6202
9668 6181 nan 6183 6184 nan 6186 6187 6188 6189 6190 6191 6192 nan 6194 6195 6196 6197 nan 6199 nan 6201 nan
9740 6181 6182 6183 nan 6185 6186 6187 nan 6189 6190 nan 6192 6193 6194 nan 6196 6197 6198 6199 6200 6201 6202
9812 6181 6182 nan 6184 6185 6186 nan 6188 6189 6190 6191 6192 6193 6194 6195 6196 6197 6198 6199 6200 nan 6202
}\band
\pgfplotstableread{
x a b c d e f g h i j k l m n o p q r s t u v
41 6181 6182 nan 6184 6185 6186 6187 6188 nan 6190 6191 6192 6193 6194 nan 6196 6197 6198 6199 nan 6201 6202
110 6181 6182 6183 6184 6185 6186 6187 6188 6189 6190 6191 6192 6193 6194 6195 6196 6197 6198 6199 6200 6201 nan
179 6181 nan 6183 nan 6185 6186 6187 nan 6189 6190 nan 6192 6193 6194 6195 6196 6197 6198 nan 6200 nan 6202
248 nan 6182 6183 6184 6185 6186 6187 6188 6189 6190 6191 6192 6193 6194 6195 6196 6197 6198 6199 6200 nan 6202
318 nan 6182 nan 6184 6185 6186 6187 6188 nan 6190 6191 6192 nan 6194 6195 6196 6197 6198 6199 nan 6201 6202
388 6181 nan 6183 6184 6185 6186 6187 6188 6189 6190 6191 6192 6193 6194 6195 6196 6197 6198 6199 6200 6201 nan
457 6181 nan 6183 6184 nan 6186 6187 6188 6189 6190 nan 6192 6193 6194 6195 6196 6197 nan 6199 6200 nan nan
527 6181 6182 nan 6184 6185 6186 6187 6188 6189 6190 6191 6192 6193 6194 6195 6196 6197 6198 6199 6200 nan 6202
598 nan 6182 6183 6184 6185 nan 6187 6188 6189 nan 6191 6192 6193 6194 6195 6196 6197 6198 nan 6200 nan 6202
668 6181 6182 6183 6184 6185 6186 6187 6188 6189 6190 6191 6192 6193 6194 6195 6196 6197 6198 6199 6200 6201 nan
737 6181 nan 6183 6184 6185 6186 nan 6188 6189 6190 6191 6192 6193 6194 nan 6196 6197 6198 6199 6200 6201 6202
806 6181 nan 6183 6184 6185 6186 6187 6188 6189 6190 6191 6192 6193 6194 6195 6196 6197 6198 6199 6200 nan 6202
876 6181 6182 6183 6184 6185 6186 6187 nan 6189 6190 6191 6192 6193 nan 6195 6196 6197 6198 6199 nan 6201 nan
946 6181 6182 6183 6184 6185 6186 6187 6188 6189 6190 6191 6192 6193 6194 6195 6196 6197 6198 6199 6200 6201 nan
1015 6181 6182 6183 6184 6185 6186 6187 6188 nan 6190 6191 6192 6193 6194 6195 6196 6197 6198 6199 6200 6201 6202
1084 6181 6182 6183 6184 6185 6186 6187 6188 6189 6190 6191 6192 6193 6194 6195 6196 6197 6198 6199 6200 6201 nan
1155 6181 6182 nan 6184 6185 6186 nan 6188 6189 6190 nan 6192 6193 6194 6195 6196 nan 6198 6199 nan nan 6202
1224 6181 6182 6183 6184 6185 6186 6187 6188 6189 6190 6191 6192 6193 6194 6195 6196 6197 6198 6199 6200 6201 6202
1293 nan 6182 6183 6184 6185 nan 6187 nan 6189 nan 6191 6192 6193 6194 nan 6196 6197 6198 6199 6200 nan nan
1362 6181 6182 6183 6184 6185 6186 6187 6188 6189 6190 6191 6192 6193 6194 6195 6196 6197 6198 6199 6200 6201 nan
1431 6181 nan 6183 6184 nan 6186 6187 6188 nan 6190 6191 6192 6193 nan 6195 6196 6197 nan 6199 6200 6201 6202
1501 6181 6182 6183 6184 6185 6186 6187 6188 6189 6190 6191 6192 6193 6194 6195 6196 6197 6198 6199 6200 6201 nan
1571 nan nan 6183 6184 6185 6186 6187 6188 6189 nan 6191 6192 6193 6194 6195 6196 nan 6198 6199 6200 6201 nan
1641 6181 6182 6183 6184 6185 6186 6187 6188 6189 6190 6191 6192 6193 6194 6195 6196 6197 6198 6199 6200 nan 6202
1709 6181 6182 6183 nan 6185 6186 6187 nan 6189 6190 6191 6192 6193 6194 6195 nan 6197 6198 nan 6200 6201 6202
1778 6181 6182 6183 6184 6185 6186 6187 6188 6189 6190 6191 6192 6193 6194 6195 6196 6197 6198 6199 6200 6201 6202
1849 6181 6182 nan 6184 6185 6186 nan 6188 6189 nan 6191 6192 6193 nan 6195 6196 6197 6198 6199 nan nan 6202
1919 6181 6182 6183 6184 6185 6186 6187 6188 6189 6190 6191 6192 6193 6194 6195 6196 6197 6198 6199 6200 6201 6202
1988 6181 6182 6183 6184 nan 6186 6187 nan 6189 6190 6191 6192 6193 6194 6195 6196 nan 6198 nan 6200 nan 6202
2057 6181 6182 6183 6184 6185 6186 6187 6188 6189 6190 6191 6192 6193 6194 6195 6196 6197 6198 6199 6200 6201 6202
2126 6181 6182 nan 6184 6185 6186 6187 6188 6189 nan 6191 6192 6193 6194 6195 6196 6197 nan 6199 6200 6201 nan
2197 6181 6182 6183 6184 6185 6186 6187 6188 6189 6190 6191 6192 6193 6194 6195 6196 6197 6198 6199 6200 6201 6202
2266 nan 6182 6183 6184 nan 6186 6187 6188 6189 6190 6191 6192 6193 6194 nan 6196 nan 6198 6199 nan 6201 6202
2335 6181 6182 6183 6184 6185 6186 6187 6188 6189 6190 6191 6192 6193 6194 6195 6196 6197 6198 6199 6200 6201 6202
2404 6181 6182 nan 6184 6185 6186 6187 6188 6189 nan 6191 6192 6193 6194 6195 nan 6197 6198 6199 6200 nan 6202
2473 6181 6182 6183 6184 6185 6186 6187 6188 6189 6190 6191 6192 6193 6194 6195 6196 6197 6198 6199 6200 6201 6202
2543 6181 nan 6183 6184 nan 6186 6187 6188 nan 6190 6191 6192 6193 6194 nan 6196 6197 6198 6199 nan 6201 nan
2613 6181 6182 6183 6184 6185 6186 6187 6188 6189 6190 6191 6192 6193 6194 6195 6196 6197 6198 6199 6200 6201 6202
2682 6181 6182 nan 6184 6185 6186 6187 nan 6189 6190 6191 6192 nan 6194 6195 nan 6197 6198 6199 6200 6201 nan
2752 6181 6182 6183 6184 6185 6186 6187 6188 6189 6190 6191 6192 6193 6194 6195 6196 6197 6198 6199 6200 6201 6202
2822 6181 nan 6183 6184 nan 6186 nan 6188 nan 6190 6191 6192 6193 nan 6195 6196 6197 nan 6199 nan nan 6202
2891 6181 6182 6183 6184 6185 6186 6187 6188 6189 6190 6191 6192 6193 6194 6195 6196 6197 6198 6199 6200 6201 6202
2961 6181 6182 6183 nan 6185 6186 6187 nan 6189 6190 nan 6192 6193 6194 nan 6196 nan 6198 6199 6200 nan 6202
3031 6181 6182 6183 6184 6185 6186 6187 6188 6189 6190 6191 6192 6193 6194 6195 6196 6197 6198 6199 6200 6201 6202
3100 6181 6182 6183 6184 6185 nan 6187 6188 nan 6190 6191 6192 6193 6194 6195 nan 6197 6198 6199 nan 6201 nan
3170 6181 6182 6183 6184 6185 6186 6187 6188 6189 6190 6191 6192 6193 6194 6195 6196 6197 6198 6199 6200 6201 6202
3240 nan 6182 6183 6184 nan 6186 6187 6188 6189 nan 6191 6192 6193 6194 6195 6196 nan 6198 6199 6200 6201 6202
3310 6181 6182 6183 6184 6185 6186 6187 6188 6189 6190 6191 6192 6193 6194 6195 6196 6197 6198 6199 6200 6201 6202
3379 6181 6182 6183 nan 6185 nan 6187 6188 nan 6190 6191 6192 6193 6194 6195 6196 6197 6198 6199 nan nan 6202
3449 6181 6182 6183 6184 6185 6186 6187 6188 6189 6190 6191 6192 6193 6194 6195 6196 6197 6198 6199 6200 6201 6202
3518 nan 6182 nan 6184 6185 6186 nan 6188 6189 nan 6191 6192 6193 6194 nan 6196 6197 6198 6199 6200 nan nan
3588 6181 6182 6183 6184 6185 6186 6187 6188 6189 6190 6191 6192 6193 6194 6195 6196 6197 6198 6199 6200 6201 6202
3657 6181 nan 6183 6184 nan 6186 6187 nan 6189 6190 6191 6192 6193 6194 6195 6196 6197 6198 6199 nan 6201 nan
3727 6181 6182 6183 6184 6185 6186 6187 6188 6189 6190 6191 6192 6193 6194 6195 6196 6197 6198 6199 6200 6201 6202
3797 nan 6182 6183 6184 6185 6186 nan 6188 nan 6190 nan 6192 6193 6194 6195 6196 6197 6198 nan 6200 6201 nan
3866 6181 6182 6183 6184 6185 6186 6187 6188 6189 6190 6191 6192 6193 6194 6195 6196 6197 6198 6199 6200 6201 6202
3936 6181 6182 nan 6184 nan 6186 6187 nan 6189 nan 6191 6192 6193 6194 6195 nan 6197 nan 6199 6200 nan nan
4005 6181 6182 6183 6184 6185 6186 6187 6188 6189 6190 6191 6192 6193 6194 6195 6196 6197 6198 6199 6200 6201 6202
4075 6181 6182 nan nan 6185 6186 nan 6188 nan 6190 6191 nan 6193 6194 6195 6196 nan 6198 nan 6200 nan 6202
4145 6181 6182 6183 6184 6185 6186 6187 6188 6189 6190 6191 6192 6193 6194 6195 6196 6197 6198 6199 6200 6201 6202
4214 nan 6182 6183 nan nan 6186 6187 nan 6189 6190 6191 6192 nan 6194 6195 6196 6197 nan 6199 6200 6201 6202
4283 6181 6182 6183 6184 6185 6186 6187 6188 6189 6190 6191 6192 6193 6194 6195 6196 6197 6198 6199 6200 6201 6202
4353 6181 nan 6183 6184 nan 6186 6187 nan 6189 nan 6191 6192 6193 nan 6195 6196 6197 6198 nan 6200 6201 nan
4422 6181 6182 6183 6184 6185 6186 6187 6188 6189 6190 6191 6192 6193 6194 6195 6196 6197 6198 6199 6200 6201 6202
4492 6181 nan nan 6184 6185 6186 6187 6188 nan 6190 nan 6192 nan 6194 nan 6196 6197 nan 6199 nan 6201 nan
4561 6181 6182 6183 6184 6185 6186 6187 6188 6189 6190 6191 6192 6193 6194 6195 6196 6197 6198 6199 6200 6201 6202
4631 nan 6182 nan 6184 nan 6186 6187 nan 6189 nan 6191 6192 6193 6194 6195 nan 6197 6198 nan 6200 nan nan
4700 6181 6182 6183 6184 6185 6186 6187 6188 6189 6190 6191 6192 6193 6194 6195 6196 6197 6198 6199 6200 6201 6202
4770 6181 6182 nan nan 6185 nan 6187 6188 nan 6190 6191 6192 6193 6194 6195 6196 nan 6198 6199 6200 6201 nan
4839 6181 6182 6183 6184 6185 6186 6187 6188 6189 6190 6191 6192 6193 6194 6195 6196 6197 6198 6199 6200 6201 6202
4909 6181 nan 6183 nan 6185 6186 nan 6188 6189 nan 6191 6192 6193 6194 nan 6196 6197 6198 nan 6200 6201 nan
4978 6181 6182 6183 6184 6185 6186 6187 6188 6189 6190 6191 6192 6193 6194 6195 6196 6197 6198 6199 6200 6201 6202
5048 nan 6182 6183 nan 6185 nan 6187 6188 nan 6190 6191 6192 6193 6194 6195 6196 6197 nan 6199 6200 6201 6202
5117 6181 6182 6183 6184 6185 6186 6187 6188 6189 6190 6191 6192 6193 6194 6195 6196 6197 6198 6199 6200 6201 6202
5187 6181 nan 6183 6184 nan 6186 6187 nan 6189 nan 6191 6192 6193 6194 nan 6196 6197 6198 nan nan 6201 6202
5256 6181 6182 6183 6184 6185 6186 6187 6188 6189 6190 6191 6192 6193 6194 6195 6196 6197 6198 6199 6200 6201 6202
5326 6181 6182 nan 6184 6185 nan 6187 6188 nan 6190 6191 nan 6193 nan 6195 6196 6197 nan 6199 nan nan 6202
5395 6181 6182 6183 6184 6185 6186 6187 6188 6189 6190 6191 6192 6193 6194 6195 6196 6197 6198 6199 6200 6201 6202
5465 nan 6182 6183 6184 nan 6186 6187 nan 6189 6190 nan 6192 6193 6194 nan 6196 nan 6198 6199 6200 nan nan
5534 6181 6182 6183 6184 6185 6186 6187 6188 6189 6190 6191 6192 6193 6194 6195 6196 6197 6198 6199 6200 6201 6202
5604 6181 nan 6183 nan 6185 nan 6187 6188 nan 6190 6191 6192 6193 nan 6195 nan 6197 6198 nan 6200 6201 nan
5673 6181 6182 6183 6184 6185 6186 6187 6188 6189 6190 6191 6192 6193 6194 6195 6196 6197 6198 6199 6200 6201 6202
5743 6181 6182 nan 6184 6185 6186 6187 nan 6189 6190 6191 nan 6193 6194 nan 6196 6197 nan 6199 nan 6201 nan
5812 6181 6182 6183 6184 6185 6186 6187 6188 6189 6190 6191 6192 6193 6194 6195 6196 6197 6198 6199 6200 6201 6202
5882 nan 6182 6183 6184 nan nan 6187 6188 6189 6190 6191 6192 nan 6194 6195 nan 6197 6198 6199 6200 6201 6202
5951 6181 6182 6183 6184 6185 6186 6187 6188 6189 6190 6191 6192 6193 6194 6195 6196 6197 6198 6199 6200 6201 6202
6021 6181 nan 6183 nan 6185 6186 6187 nan 6189 6190 nan 6192 6193 6194 6195 6196 6197 6198 nan 6200 nan 6202
6090 6181 6182 6183 6184 6185 6186 6187 6188 6189 6190 6191 6192 6193 6194 6195 6196 6197 6198 6199 6200 6201 6202
6160 nan 6182 nan 6184 6185 nan 6187 6188 nan 6190 6191 6192 6193 6194 nan 6196 6197 nan 6199 nan nan 6202
6229 6181 6182 6183 6184 6185 6186 6187 6188 6189 6190 6191 6192 6193 6194 6195 6196 6197 6198 6199 6200 6201 6202
6299 6181 6182 6183 6184 nan 6186 nan 6188 6189 nan 6191 6192 6193 nan 6195 6196 6197 6198 nan 6200 nan nan
6368 6181 6182 6183 6184 6185 6186 6187 6188 6189 6190 6191 6192 6193 6194 6195 6196 6197 6198 6199 6200 6201 6202
6438 6181 nan 6183 nan 6185 nan 6187 6188 6189 6190 nan 6192 6193 6194 nan 6196 6197 6198 6199 6200 nan 6202
6507 6181 6182 6183 6184 6185 6186 6187 6188 6189 6190 6191 6192 6193 6194 6195 6196 6197 6198 6199 6200 6201 6202
6577 nan 6182 nan 6184 6185 6186 nan 6188 6189 nan 6191 6192 nan 6194 6195 6196 6197 6198 nan 6200 6201 6202
6646 6181 6182 6183 6184 6185 6186 6187 6188 6189 6190 6191 6192 6193 6194 6195 6196 6197 6198 6199 6200 6201 6202
6716 6181 6182 6183 6184 nan 6186 6187 nan 6189 6190 nan 6192 6193 nan 6195 6196 nan 6198 6199 nan 6201 6202
6785 6181 6182 6183 6184 6185 6186 6187 6188 6189 6190 6191 6192 6193 6194 6195 6196 6197 6198 6199 6200 6201 6202
6855 6181 nan 6183 nan 6185 6186 nan 6188 6189 6190 6191 6192 nan 6194 6195 6196 6197 6198 nan 6200 6201 nan
6924 6181 6182 6183 6184 6185 6186 6187 6188 6189 6190 6191 6192 6193 6194 6195 6196 6197 6198 6199 6200 6201 6202
6994 nan 6182 nan 6184 6185 nan 6187 nan 6189 6190 nan 6192 6193 nan 6195 6196 nan 6198 6199 6200 6201 6202
7063 6181 6182 6183 6184 6185 6186 6187 6188 6189 6190 6191 6192 6193 6194 6195 6196 6197 6198 6199 6200 6201 6202
7133 6181 6182 6183 6184 nan 6186 nan 6188 nan 6190 6191 6192 nan 6194 6195 nan 6197 6198 nan 6200 nan 6202
7202 6181 6182 6183 6184 6185 6186 6187 6188 6189 6190 6191 6192 6193 6194 6195 6196 6197 6198 6199 6200 6201 6202
7272 6181 nan 6183 nan 6185 6186 6187 nan 6189 nan 6191 6192 6193 6194 6195 6196 nan 6198 6199 nan nan 6202
7341 6181 6182 6183 6184 6185 6186 6187 6188 6189 6190 6191 6192 6193 6194 6195 6196 6197 6198 6199 6200 6201 6202
7411 nan nan 6183 nan 6185 nan 6187 6188 nan 6190 6191 6192 6193 nan 6195 6196 6197 nan 6199 6200 nan nan
7480 6181 6182 6183 6184 6185 6186 6187 6188 6189 6190 6191 6192 6193 6194 6195 6196 6197 6198 6199 6200 6201 6202
7550 6181 nan 6183 nan 6185 6186 6187 nan 6189 nan 6191 nan 6193 6194 6195 6196 nan 6198 nan 6200 nan 6202
7619 6181 6182 6183 6184 6185 6186 6187 6188 6189 6190 6191 6192 6193 6194 6195 6196 6197 6198 6199 6200 6201 6202
7689 6181 nan nan 6184 6185 nan 6187 6188 nan 6190 6191 6192 6193 nan 6195 6196 6197 nan 6199 nan 6201 6202
7758 6181 6182 6183 6184 6185 6186 6187 6188 6189 6190 6191 6192 6193 6194 6195 6196 6197 6198 6199 6200 6201 6202
7828 nan 6182 nan 6184 nan 6186 6187 6188 6189 6190 nan 6192 nan 6194 nan 6196 6197 6198 6199 nan 6201 nan
7897 6181 6182 6183 6184 6185 6186 6187 6188 6189 6190 6191 6192 6193 6194 6195 6196 6197 6198 6199 6200 6201 6202
7967 6181 nan nan 6184 6185 nan 6187 6188 nan 6190 6191 nan 6193 6194 6195 6196 6197 6198 nan 6200 6201 6202
8036 nan nan 6183 6184 6185 6186 6187 6188 6189 6190 6191 6192 6193 6194 6195 6196 6197 6198 6199 6200 6201 6202
8106 6181 nan nan 6184 nan 6186 6187 6188 6189 nan 6191 6192 nan 6194 6195 nan 6197 6198 6199 nan 6201 nan
8175 nan nan nan 6184 6185 6186 6187 6188 6189 6190 6191 6192 6193 6194 6195 6196 6197 6198 6199 6200 6201 6202
8245 nan 6182 nan 6184 6185 6186 6187 6188 nan 6190 nan 6192 6193 6194 6195 6196 nan 6198 6199 6200 nan 6202
8314 nan nan 6183 6184 6185 6186 6187 6188 6189 6190 6191 6192 6193 6194 6195 6196 6197 6198 6199 6200 6201 6202
8384 6181 nan nan 6184 6185 nan 6187 6188 nan 6190 6191 6192 6193 6194 nan 6196 6197 nan 6199 nan 6201 6202
8453 6181 6182 6183 6184 6185 6186 6187 6188 6189 6190 6191 6192 6193 6194 6195 6196 6197 6198 6199 6200 6201 6202
8523 nan 6182 6183 6184 nan 6186 6187 nan 6189 6190 6191 6192 6193 nan 6195 6196 nan 6198 6199 nan 6201 nan
8592 6181 6182 6183 6184 6185 6186 6187 6188 6189 6190 6191 6192 6193 6194 6195 6196 6197 6198 6199 6200 6201 6202
8662 6181 6182 nan 6184 6185 nan 6187 6188 6189 6190 6191 nan 6193 6194 nan 6196 6197 6198 nan 6200 6201 6202
8731 6181 6182 6183 6184 6185 6186 6187 6188 6189 6190 6191 6192 6193 6194 6195 6196 6197 6198 6199 6200 6201 6202
8801 6181 nan 6183 nan 6185 6186 6187 nan 6189 6190 6191 6192 6193 nan 6195 6196 6197 6198 6199 6200 6201 nan
8870 6181 6182 6183 6184 6185 6186 6187 6188 6189 6190 6191 6192 6193 6194 6195 6196 6197 6198 6199 6200 6201 6202
8940 nan 6182 6183 nan 6185 nan 6187 6188 nan 6190 6191 nan 6193 6194 6195 6196 6197 6198 6199 nan 6201 6202
9009 6181 6182 6183 6184 6185 6186 6187 6188 6189 6190 6191 6192 6193 6194 6195 6196 6197 6198 6199 6200 6201 6202
9079 6181 6182 nan 6184 6185 6186 6187 6188 6189 nan 6191 6192 6193 6194 nan 6196 6197 6198 nan 6200 nan 6202
9148 6181 6182 6183 6184 6185 6186 6187 6188 6189 6190 6191 6192 6193 6194 6195 6196 6197 6198 6199 6200 6201 6202
9218 6181 nan 6183 6184 nan 6186 nan 6188 6189 6190 nan 6192 6193 6194 6195 nan 6197 6198 6199 6200 nan nan
9287 6181 6182 6183 6184 6185 6186 6187 6188 6189 6190 6191 6192 6193 6194 6195 6196 6197 6198 6199 6200 6201 6202
9357 nan 6182 6183 nan 6185 6186 6187 nan 6189 nan 6191 6192 6193 6194 nan 6196 6197 6198 nan 6200 6201 nan
9426 6181 6182 6183 6184 6185 6186 6187 6188 6189 6190 6191 6192 6193 6194 6195 6196 6197 6198 6199 6200 6201 6202
9496 6181 6182 6183 nan 6185 nan 6187 6188 nan 6190 6191 6192 6193 nan 6195 6196 6197 6198 nan 6200 6201 6202
9565 6181 6182 6183 6184 6185 6186 6187 6188 6189 6190 6191 6192 6193 6194 6195 6196 6197 6198 6199 6200 6201 6202
9635 6181 nan 6183 6184 nan 6186 6187 6188 6189 6190 6191 6192 nan 6194 6195 6196 6197 nan 6199 nan 6201 nan
9704 6181 6182 6183 6184 6185 6186 6187 6188 6189 6190 6191 6192 6193 6194 6195 6196 6197 6198 6199 6200 6201 6202
9776 6181 6182 6183 6184 6185 6186 6187 6188 6189 6190 6191 6192 6193 6194 6195 6196 6197 6198 6199 6200 nan 6202
}\bandb
\begin{document}
\fontsize{10bp}{12bp}\selectfont
\begin{tikzpicture}
\useasboundingbox (0,0) rectangle (720bp,720bp);
\begin{axis}[
  at={(57.96bp,42.12bp)}, anchor=south west,
  scale only axis, width=651.6bp, height=652.32bp,
  xmin=-489, xmax=10350, ymin=6157.03, ymax=6224.05,
  xtick={0,2000,...,10000}, ytick={6160,6170,...,6220},
  scaled x ticks=false, scaled y ticks=false,
  /pgf/number format/assume math mode=true,
  /pgf/number format/1000 sep={},
  /pgf/number format/fixed,
  tick label style={font=\fontsize{10bp}{12bp}\selectfont},
  xticklabel style={yshift=-1bp},
  tick align=outside, xtick pos=bottom, ytick pos=left,
  major tick length=3.5bp,
  tick style={black, line width=0.72bp},
  axis line style={black, line width=0.72bp},
  grid=major, major grid style={gridg, line width=0.72bp},
  xlabel={Sample \#}, ylabel={ADC Counts},
  label style={font=\fontsize{10bp}{12bp}\selectfont},
  title={Run 458, channel025, Pedestal},
  title style={font=\fontsize{12bp}{14bp}\selectfont, yshift=-5bp},
  legend style={at={(rel axis cs:0.9923,0.9923)}, anchor=north east,
    draw=legg, line width=0.72bp, rounded corners=2bp, fill=white, fill opacity=0.8, text opacity=1,
    font=\fontsize{10bp}{12bp}\selectfont, inner xsep=1bp, inner ysep=3bp,
    cells={align=left}},
]
\addplot[only marks, mark=*, mark size=2.05bp, black, mark options={draw=none, fill=black, fill opacity=1},
  legend image code/.code={\draw[##1] plot coordinates {(0bp,0bp)}; \path (-12.2bp,0bp) (15.9bp,0bp);}] table[x=x,y=y] {\outliers};
\addlegendentry{Samples\\\textit{μ} = 6192.68, \textit{σ} = 8.23}
\pgfplotsinvokeforeach{1,...,22}{
  \addplot[only marks, mark=*, mark size=2.05bp, black, mark options={draw=none, fill=black}, forget plot] table[x index=0,y index=#1] {\band};
  \addplot[only marks, mark=*, mark size=2.05bp, black, mark options={draw=none, fill=black}, forget plot] table[x index=0,y index=#1] {\bandb};
}
\end{axis}
\end{tikzpicture}
\end{document}
